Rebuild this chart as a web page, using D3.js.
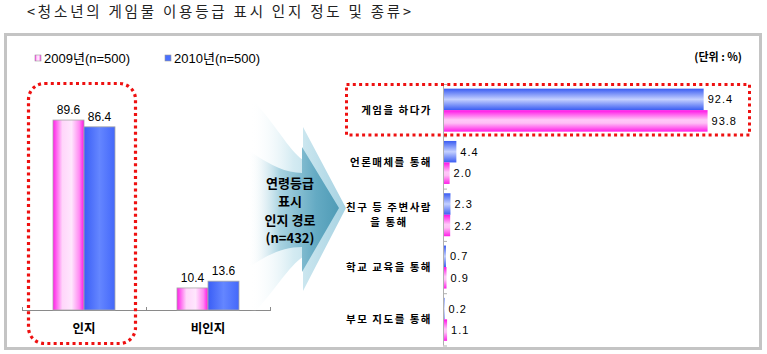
<!DOCTYPE html>
<html>
<head>
<meta charset="utf-8">
<script src="https://cdn.jsdelivr.net/npm/d3@7/dist/d3.min.js"></script>
<style>
  html, body { margin: 0; padding: 0; background: #fff; }
  svg { display: block; }
  text { font-family: "Liberation Sans", "Noto Sans CJK KR", sans-serif; }
</style>
</head>
<body>
<svg id="chart" width="767" height="354"></svg>
<script>
// ---- data ----
const title = "<청소년의 게임물 이용등급 표시 인지 정도 및 종류>";
const seriesNames = ["2009년(n=500)", "2010년(n=500)"];
const awareCats = ["인지", "비인지"];
const aware2009 = [89.6, 10.4];
const aware2010 = [86.4, 13.6];
const routeCats = ["게임을 하다가", "언론매체를 통해", "친구 등 주변사람|을 통해", "학교 교육을 통해", "부모 지도를 통해"];
const route2010 = [92.4, 4.4, 2.3, 0.7, 0.2];
const route2009 = [93.8, 2.0, 2.2, 0.9, 1.1];
const arrowLines = ["연령등급", "표시", "인지 경로", "(n=432)"];
const unitLabel = "(단위 : %)";

const svg = d3.select("#chart");
const defs = svg.append("defs");

// gradients
function linGrad(id, horizontal, stops) {
  const g = defs.append("linearGradient").attr("id", id)
    .attr("x1", 0).attr("y1", 0)
    .attr("x2", horizontal ? 1 : 0).attr("y2", horizontal ? 0 : 1);
  stops.forEach(([o, c, op]) => g.append("stop").attr("offset", o).attr("stop-color", c)
    .attr("stop-opacity", op == null ? 1 : op));
}
linGrad("pinkV", true, [[0, "#ff1ee8"], [0.3, "#ffd6fa"], [0.6, "#ffe6fd"], [0.85, "#ff8af2"], [1, "#ff10e6"]]);
linGrad("blueV", true, [[0, "#3a5ef6"], [0.5, "#6486ff"], [1, "#4468fa"]]);
linGrad("pinkH", false, [[0, "#ff10e6"], [0.45, "#ffc8f8"], [0.6, "#ffbff6"], [1, "#ff1ee8"]]);
linGrad("blueH", false, [[0, "#3a5cf2"], [0.5, "#c4d0ff"], [1, "#3a5cf2"]]);
linGrad("arrowBack", true, [[0, "#ffffff", 0], [0.45, "#d4ebf2"], [1, "#a6d2e2"]]);
linGrad("arrowFront", true, [[0, "#ffffff", 0], [0.35, "#a9d3e1"], [0.75, "#64aac3"], [1, "#4f9bb6"]]);

// frame
svg.append("rect").attr("x", 5.5).attr("y", 34.5).attr("width", 755).attr("height", 314)
  .attr("fill", "#fff").attr("stroke", "#c4c4c4").attr("stroke-width", 3);

// title
svg.append("text").attr("x", 27).attr("y", 17).text(title)
  .style("font-family", "'Noto Sans CJK KR', sans-serif")
  .attr("font-size", 14.5).attr("letter-spacing", 2.8).attr("fill", "#222");

// legend
const legend = svg.append("g");
const legendX = [35, 165];
const legendFill = ["url(#pinkV)", "#4a70ff"];
seriesNames.forEach((name, i) => {
  legend.append("rect").attr("x", legendX[i]).attr("y", 55).attr("width", 6).attr("height", 6)
    .attr("fill", legendFill[i]).attr("stroke", "#999").attr("stroke-width", 0.6);
  legend.append("text").attr("x", legendX[i] + 9).attr("y", 62.5).text(name)
    .attr("font-size", 13).attr("fill", "#000");
});

// ---- left chart: awareness ----
const x0 = d3.scaleBand().domain(awareCats).range([22, 270]);
const groupW = 62;
const x1 = d3.scaleBand().domain(seriesNames).range([0, groupW]);
const yL = d3.scaleLinear().domain([0, 100]).range([310, 98]);

const leftAxis = svg.append("g");
leftAxis.append("line").attr("x1", x0.range()[0]).attr("x2", x0.range()[1])
  .attr("y1", yL(0) + 0.5).attr("y2", yL(0) + 0.5).attr("stroke", "#8a8a8a");
const boundaries = awareCats.map(c => x0(c)).concat([x0.range()[1]]);
leftAxis.selectAll("line.tick").data(boundaries).join("line").attr("class", "tick")
  .attr("x1", d => d + 0.5).attr("x2", d => d + 0.5)
  .attr("y1", yL(0) - 3).attr("y2", yL(0) + 1).attr("stroke", "#8a8a8a");

const leftData = [aware2009, aware2010];
const leftFill = ["url(#pinkV)", "url(#blueV)"];
seriesNames.forEach((s, si) => {
  const g = svg.append("g");
  g.selectAll("rect").data(awareCats).join("rect")
    .attr("x", c => x0(c) + (x0.bandwidth() - groupW) / 2 + x1(s))
    .attr("y", (c, i) => yL(leftData[si][i]))
    .attr("width", x1.bandwidth())
    .attr("height", (c, i) => yL(0) - yL(leftData[si][i]))
    .attr("fill", leftFill[si]).attr("stroke", "#a8a8a8").attr("stroke-width", 0.8);
  g.selectAll("text").data(awareCats).join("text")
    .attr("x", c => x0(c) + (x0.bandwidth() - groupW) / 2 + x1(s) + x1.bandwidth() / 2)
    .attr("y", (c, i) => yL(leftData[si][i]) - 6)
    .attr("text-anchor", "middle").attr("font-size", 12).attr("fill", "#000")
    .text((c, i) => leftData[si][i].toFixed(1));
});
svg.append("g").selectAll("text").data(awareCats).join("text")
  .attr("x", c => x0(c) + x0.bandwidth() / 2)
  .attr("y", 333)
  .attr("text-anchor", "middle").attr("font-size", 12.5).attr("font-weight", "bold")
  .style("font-family", "'Noto Sans CJK KR', sans-serif").attr("fill", "#000")
  .text(c => c);

// red dotted highlight around the first group
svg.append("rect").attr("x", 28.5).attr("y", 83.5).attr("width", 107).attr("height", 260).attr("rx", 16)
  .attr("fill", "none").attr("stroke", "#ee1111").attr("stroke-width", 3.2)
  .attr("stroke-dasharray", "3 3.3");

// ---- arrow ----
const arrow = svg.append("g");
arrow.append("path")
  .attr("d", "M250,98 C272,118 288,150 303,160 L303,127 L346,208 L303,291 L303,257 C288,266 272,296 250,316 Z")
  .attr("fill", "url(#arrowBack)");
arrow.append("path")
  .attr("d", "M248,150 C268,164 284,173 302,173 L302,147 L339,208 L302,272 L302,247 C284,247 268,254 248,268 Z")
  .attr("fill", "url(#arrowFront)");
arrow.selectAll("text").data(arrowLines).join("text")
  .attr("x", 290).attr("y", (d, i) => 188 + i * 18.3)
  .attr("text-anchor", "middle").attr("font-size", 13).attr("font-weight", "bold")
  .style("font-family", "'Noto Sans CJK KR', sans-serif").attr("fill", "#000")
  .text(d => d);

// ---- right chart: routes ----
const yR0 = d3.scaleBand().domain(routeCats).range([84, 345.5]);
const rightOrder = ["2010", "2009"];
const groupH = 43;
const yR1 = d3.scaleBand().domain(rightOrder).range([0, groupH]);
const xR = d3.scaleLinear().domain([0, 100]).range([443, 724]);

const rightAxis = svg.append("g");
rightAxis.append("line").attr("x1", xR(0) + 0.5).attr("x2", xR(0) + 0.5)
  .attr("y1", yR0.range()[0]).attr("y2", yR0.range()[1]).attr("stroke", "#b0b0b0");
const rBounds = routeCats.map(c => yR0(c)).concat([yR0.range()[1]]);
rightAxis.selectAll("line.tick").data(rBounds).join("line").attr("class", "tick")
  .attr("x1", xR(0)).attr("x2", xR(0) + 4)
  .attr("y1", d => d + 0.5).attr("y2", d => d + 0.5).attr("stroke", "#b0b0b0");

const rightData = { "2010": route2010, "2009": route2009 };
const rightFill = { "2010": "url(#blueH)", "2009": "url(#pinkH)" };
rightOrder.forEach(s => {
  const g = svg.append("g");
  const off = (yR0.bandwidth() - groupH) / 2;
  g.selectAll("rect").data(routeCats).join("rect")
    .attr("x", xR(0) + 1)
    .attr("y", c => yR0(c) + off + yR1(s))
    .attr("width", (c, i) => xR(rightData[s][i]) - xR(0))
    .attr("height", yR1.bandwidth())
    .attr("fill", rightFill[s]);
  g.selectAll("text").data(routeCats).join("text")
    .attr("x", (c, i) => xR(rightData[s][i]) + 5)
    .attr("y", c => yR0(c) + off + yR1(s) + yR1.bandwidth() / 2 + 4)
    .attr("font-size", 11).attr("letter-spacing", 1).attr("fill", "#000")
    .text((c, i) => rightData[s][i].toFixed(1));
});

// route labels
const labelG = svg.append("g");
const lineGap = 15.2;
routeCats.forEach(c => {
  const lines = c.split("|");
  const cy = yR0(c) + yR0.bandwidth() / 2;
  const first = labelG.append("text")
    .attr("x", 432).attr("y", cy + 3.8 - (lines.length - 1) * lineGap / 2)
    .attr("text-anchor", "end").attr("font-size", 10.5).attr("font-weight", "bold")
    .attr("letter-spacing", 1.5)
    .style("font-family", "'Noto Sans CJK KR', sans-serif").attr("fill", "#000")
    .text(lines[0]);
  if (lines.length > 1) {
    const w = first.node().getComputedTextLength();
    labelG.append("text")
      .attr("x", 432 - w / 2).attr("y", cy + 3.8 + lineGap / 2)
      .attr("text-anchor", "middle").attr("font-size", 10.5).attr("font-weight", "bold")
      .attr("letter-spacing", 1.5)
      .style("font-family", "'Noto Sans CJK KR', sans-serif").attr("fill", "#000")
      .text(lines[1]);
  }
});

// red dotted highlight around the first route
svg.append("rect").attr("x", 346.5).attr("y", 84.5).attr("width", 403).attr("height", 50.5)
  .attr("fill", "none").attr("stroke", "#ee1111").attr("stroke-width", 3)
  .attr("stroke-dasharray", "3 3.3");

// unit
svg.append("text").attr("x", 742).attr("y", 61).attr("text-anchor", "end")
  .attr("font-size", 11).attr("font-weight", "bold")
  .style("font-family", "'Noto Sans CJK KR', sans-serif").attr("fill", "#000")
  .text(unitLabel);
</script>
</body>
</html>
